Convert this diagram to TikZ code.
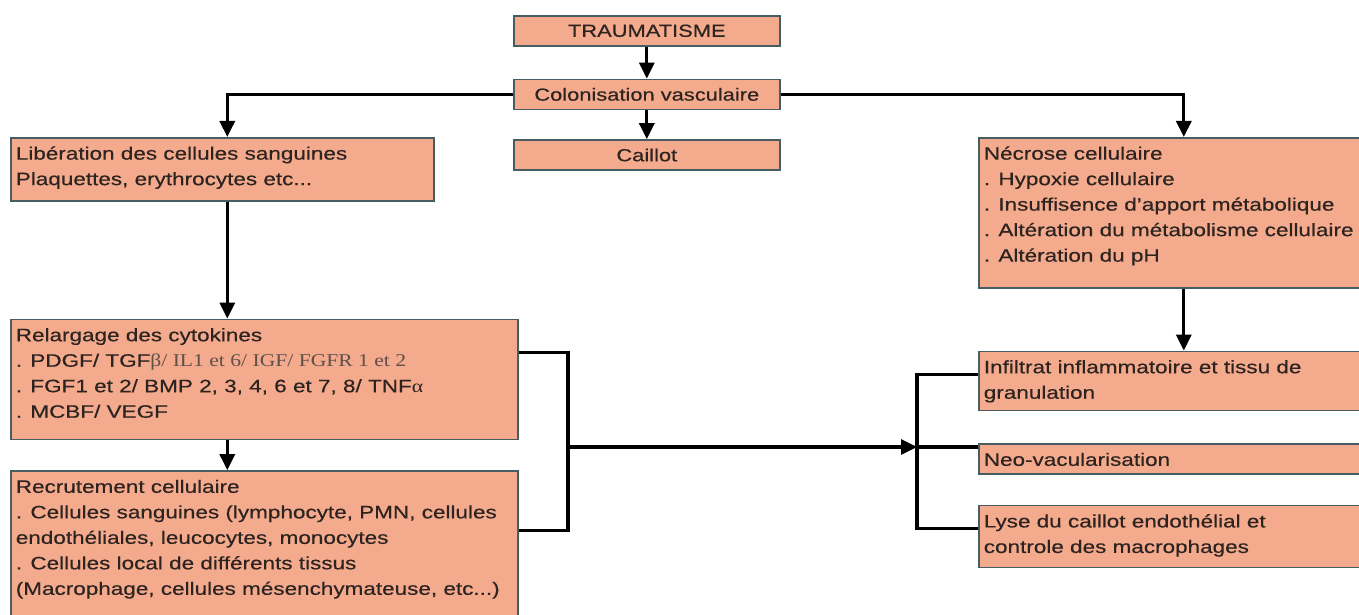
\documentclass[tikz,border=0pt]{standalone}
\usepackage{fontspec}
\setmainfont{Liberation Sans}[FakeStretch=1.25,FakeBold=0.4]
\newfontfamily\serifpart{Liberation Serif}[FakeStretch=1.2]
\usetikzlibrary{positioning,arrows.meta}
\definecolor{salmon}{RGB}{244,170,140}
\definecolor{boxline}{RGB}{72,92,100}
\definecolor{inkcol}{RGB}{45,35,32}
\definecolor{lightink}{RGB}{95,80,75}
\newcommand{\boxtext}[3]{\parbox[t][#2][t]{#1}{\strut#3}}
\tikzset{
  box/.style={draw=boxline,fill=salmon,line width=1.6pt,inner xsep=5pt,inner ysep=4pt,
    anchor=north west,text=inkcol,font=\fontsize{18}{25.5}\selectfont},
  cbox/.style={draw=boxline,fill=salmon,line width=1.6pt,minimum width=266pt,
    minimum height=30pt,inner sep=0pt,text=inkcol,font=\fontsize{17.5}{20}\selectfont},
  link/.style={line width=3.2pt},
  arr/.style={link,-{Triangle[length=16pt,width=15pt]}}
}

\begin{document}
\begin{tikzpicture}[x=1pt,y=1pt]
  \useasboundingbox (0,0) rectangle (1359,615);
  \clip (0,0) rectangle (1359,615);
                   % centre column
                   \node[cbox,anchor=north west] (trauma) at (513,600) {TRAUMATISME};
                   \node[cbox] (colon) [below=32pt of trauma] {Colonisation vasculaire};
                   \node[cbox] (caillot) [below=29pt of colon] {Caillot};
                   % left column
                   \node[box] (lib) at (10,478) {\boxtext{413pt}{55pt}{Libération des cellules sanguines\\
                     Plaquettes, erythrocytes etc...}};
                   \node[box] (relar) [below=117pt of lib.south west,anchor=north west] {\boxtext{497pt}{112pt}{Relargage des cytokines\\
                     . PDGF/ TGF{\serifpart\color{lightink}β/ IL1 et 6/ IGF/ FGFR 1 et 2}\\
                     . FGF1 et 2/ BMP 2, 3, 4, 6 et 7, 8/ TNF{\serifpart α}\\
                     . MCBF/ VEGF}};
                   \node[box] (recrut) [below=30pt of relar.south west,anchor=north west] {\boxtext{497pt}{160pt}{Recrutement cellulaire\\
                     . Cellules sanguines (lymphocyte, PMN, cellules\\
                     endothéliales, leucocytes, monocytes\\
                     . Cellules local de différents tissus\\
                     (Macrophage, cellules mésenchymateuse, etc...)}};
                   % right column
                   \node[box] (necrose) at (978,478) {\boxtext{400pt}{142pt}{Nécrose cellulaire\\
                     . Hypoxie cellulaire\\
                     . Insuffisence d'apport métabolique\\
                     . Altération du métabolisme cellulaire\\
                     . Altération du pH}};
                   \node[box] (infil) [below=62pt of necrose.south west,anchor=north west] {\boxtext{400pt}{51pt}{Infiltrat inflammatoire et tissu de\\
                     granulation}};
                   \node[box] (neo) [below=32pt of infil.south west,anchor=north west] {\boxtext{400pt}{22pt}{Neo-vacularisation}};
                   \node[box] (lyse) [below=30pt of neo.south west,anchor=north west] {\boxtext{400pt}{54pt}{Lyse du caillot endothélial et\\
                     controle des macrophages}};
                   % junctions
                   \coordinate (libout) at ([xshift=5pt]lib.south);
                   \coordinate (bjoin) at (568,168);
                   \coordinate (rjoin) at (917,168);
                    \draw[arr] (trauma) -- (colon);
                    \draw[arr] (colon) -- (caillot);
                    \draw[arr] (colon.west) -| (libout |- lib.north);
                    \draw[arr] (colon.east) -| (necrose.north);
                    \draw[arr] (libout) -- (libout |- relar.north);
                    \draw[arr] (libout |- relar.south) -- (libout |- recrut.north);
                    \draw[arr] (necrose.south -| infil.north) -- (infil.north);
                    \draw[link] ([yshift=-34pt]relar.north east) -| (bjoin) |- ([yshift=-60pt]recrut.north east);
                    \draw[arr] (bjoin) -- (rjoin);
                    \draw[link] ([yshift=6pt]infil.west) -| (rjoin) |- ([yshift=8pt]lyse.west);
                    \draw[link] (rjoin) -- (rjoin -| neo.west);
\end{tikzpicture}
\end{document}
